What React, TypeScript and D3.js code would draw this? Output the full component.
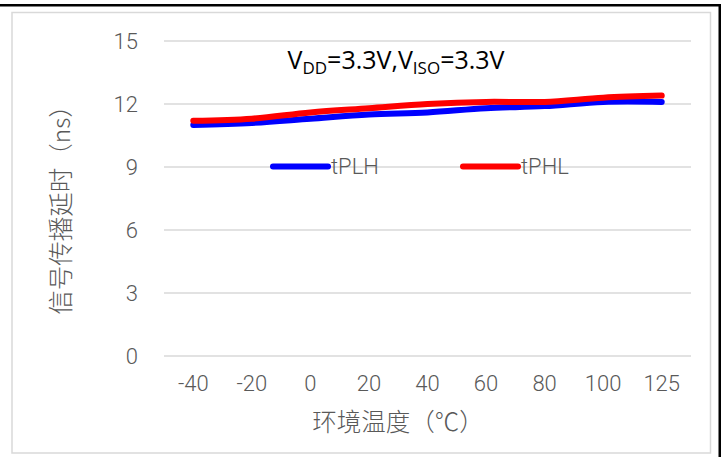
import React from "react";
import * as d3 from "d3";

const categories = ["-40", "-20", "0", "20", "40", "60", "80", "100", "125"];
const tPLH = [11.0, 11.1, 11.3, 11.5, 11.6, 11.8, 11.9, 12.1, 12.1];
const tPHL = [11.2, 11.3, 11.6, 11.8, 12.0, 12.1, 12.1, 12.3, 12.4];
const yTicks = [0, 3, 6, 9, 12, 15];

const W = 723;
const H = 457;
const plot = { left: 164, right: 691, top: 41, bottom: 356 };
const tickFont = "Roboto, 'Noto Sans CJK SC', sans-serif";
const cjkFont = "'Noto Sans CJK SC', sans-serif";

export default function App() {
  const x = d3
    .scaleBand<string>()
    .domain(categories)
    .range([plot.left, plot.right]);
  const y = d3.scaleLinear().domain([0, 15]).range([plot.bottom, plot.top]);
  const cx = (c: string) => (x(c) as number) + x.bandwidth() / 2;

  const line = d3
    .line<number>()
    .x((_, i) => cx(categories[i]))
    .y((d) => y(d))
    .curve(d3.curveCatmullRom.alpha(0.5));

  const series = [
    { name: "tPLH", values: tPLH, color: "#0000FF", lx: 273 },
    { name: "tPHL", values: tPHL, color: "#FF0000", lx: 463 },
  ];

  return (
    <svg
      width={W}
      height={H}
      style={{ position: "absolute", left: 0, top: 0, background: "#fff" }}
    >
      <rect x={0} y={0} width={W} height={H} fill="#fff" />
      {/* outer black border (top & right) */}
      <rect x={0} y={4} width={721} height={2.5} fill="#000" />
      <rect x={718.5} y={4} width={2.5} height={H - 4} fill="#000" />
      {/* chart area border */}
      <rect
        x={12}
        y={12.5}
        width={698.5}
        height={440.5}
        fill="#fff"
        stroke="#d9d9d9"
        strokeWidth={1.5}
      />
      {/* gridlines */}
      {yTicks.map((t) => (
        <line
          key={t}
          x1={plot.left}
          x2={plot.right}
          y1={y(t)}
          y2={y(t)}
          stroke="#d9d9d9"
          strokeWidth={1.5}
        />
      ))}
      {/* y tick labels */}
      {yTicks.map((t) => (
        <text
          key={"yl" + t}
          x={138}
          y={y(t)}
          dy="0.36em"
          textAnchor="end"
          fontFamily={tickFont}
          fontWeight={300}
          fontSize={22}
          fill="#595959"
        >
          {t}
        </text>
      ))}
      {/* x tick labels */}
      {categories.map((c) => (
        <text
          key={"xl" + c}
          x={cx(c)}
          y={391}
          textAnchor="middle"
          fontFamily={tickFont}
          fontWeight={300}
          fontSize={22}
          fill="#595959"
        >
          {c}
        </text>
      ))}
      {/* lines */}
      {series.map((s) => (
        <path
          key={s.name}
          d={line(s.values) as string}
          fill="none"
          stroke={s.color}
          strokeWidth={6}
          strokeLinecap="round"
          strokeLinejoin="round"
        />
      ))}
      {/* legend */}
      {series.map((s) => (
        <g key={"lg" + s.name}>
          <line
            x1={s.lx}
            x2={s.lx + 55}
            y1={166.5}
            y2={166.5}
            stroke={s.color}
            strokeWidth={6}
            strokeLinecap="round"
          />
          <text
            x={s.lx + 58}
            y={166.5}
            dy="0.36em"
            fontFamily={tickFont}
            fontWeight={300}
            fontSize={22}
            fill="#595959"
          >
            {s.name}
          </text>
        </g>
      ))}
      {/* title */}
      <text
        x={396}
        y={69}
        textAnchor="middle"
        fontFamily="'Open Sans', 'Noto Sans', sans-serif"
        fontSize={25}
        fill="#000"
      >
        <tspan>V</tspan>
        <tspan fontSize={17} dy={5}>DD</tspan>
        <tspan dy={-5}>=3.3V,V</tspan>
        <tspan fontSize={17} dy={5}>ISO</tspan>
        <tspan dy={-5}>=3.3V</tspan>
      </text>
      {/* axis titles */}
      <text
        x={398}
        y={431}
        textAnchor="middle"
        fontFamily={cjkFont}
        fontWeight={300}
        fontSize={24.5}
        fill="#595959"
      >
        环境温度（℃）
      </text>
      <text
        transform={`translate(70,204) rotate(-90)`}
        textAnchor="middle"
        fontFamily={cjkFont}
        fontWeight={300}
        fontSize={24.5}
        fill="#595959"
      >
        信号传播延时（ns）
      </text>
    </svg>
  );
}
